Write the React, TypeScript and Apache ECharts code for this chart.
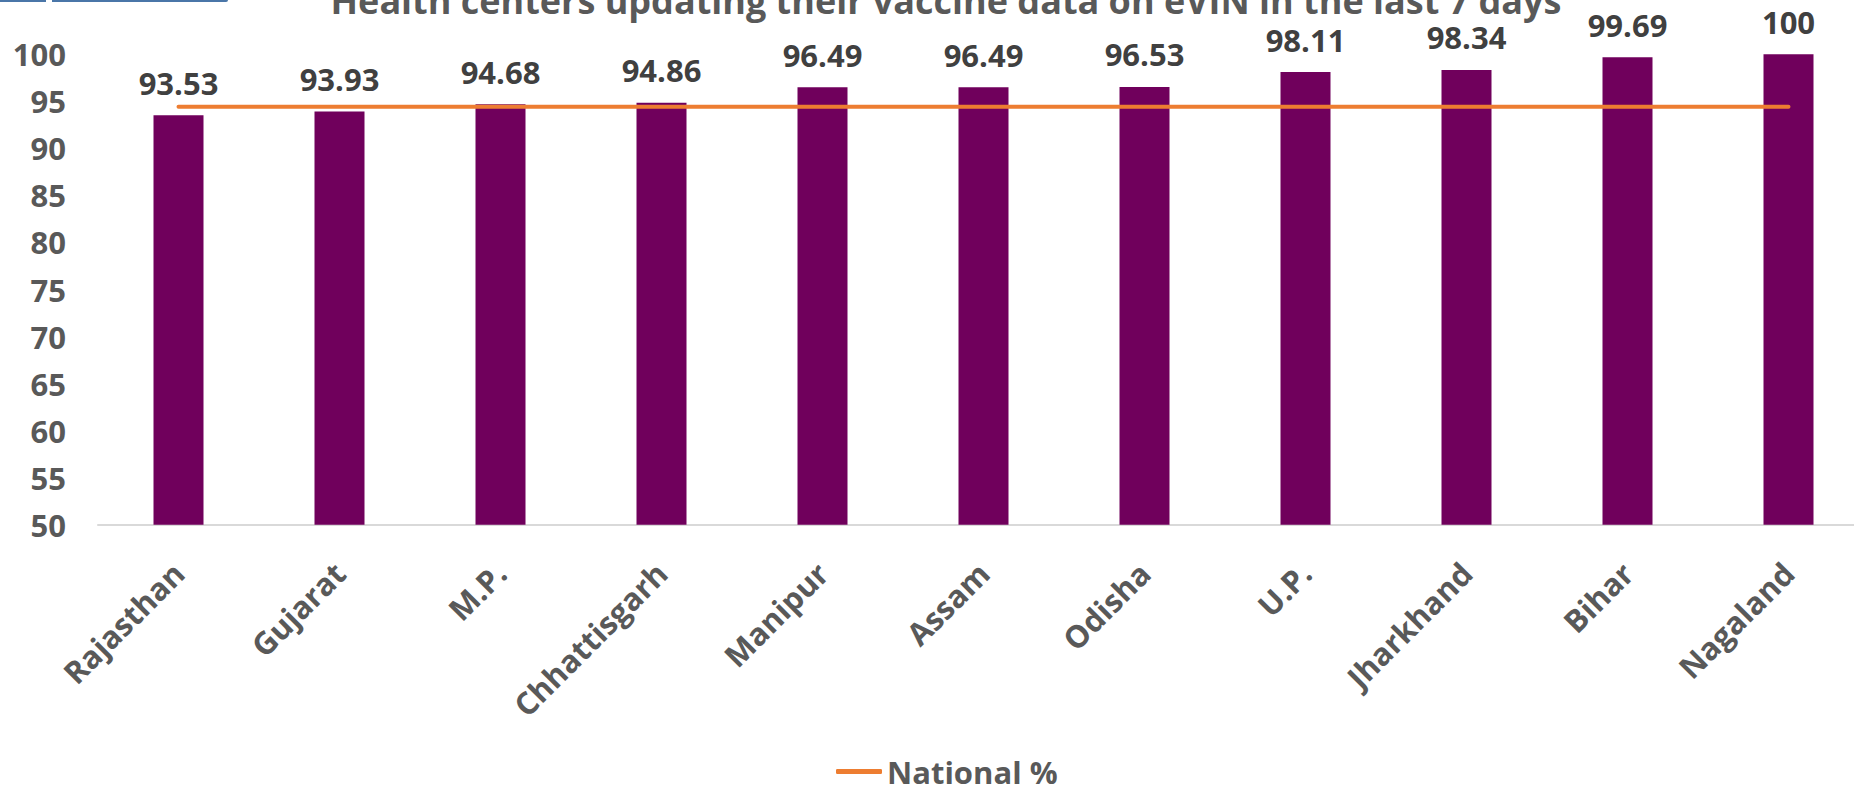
import React, { useEffect, useRef } from "react";
import * as echarts from "echarts";

const categories = ["Rajasthan", "Gujarat", "M.P.", "Chhattisgarh", "Manipur", "Assam", "Odisha", "U.P.", "Jharkhand", "Bihar", "Nagaland"];
const stateValues = [93.53, 93.93, 94.68, 94.86, 96.49, 96.49, 96.53, 98.11, 98.34, 99.69, 100];
const nationalValues = [94.42, 94.42, 94.42, 94.42, 94.42, 94.42, 94.42, 94.42, 94.42, 94.42, 94.42];
const yMin = 50;
const yMax = 100;
const yStep = 5;
const titleText = "Health centers updating their vaccine data on eVIN in the last 7 days";
const seriesNames = ["State %", "National %"];

const FONT = "'Open Sans', sans-serif";
const CHART_W = 1880;

export default function App() {
  const ref = useRef<HTMLDivElement>(null);
  useEffect(() => {
    document.body.style.margin = "0";
    document.body.style.overflow = "hidden";
    const chart = echarts.init(ref.current!, null, { renderer: "svg" });
    chart.setOption({
      animation: false,
      backgroundColor: "#ffffff",
      textStyle: { fontFamily: FONT },
      graphic: [
        {
          type: "rect",
          shape: { x: 0, y: 0, width: 46, height: 2 },
          style: { fill: "#4A76A8" },
        },
        {
          type: "rect",
          shape: { x: 52, y: 0, width: 176, height: 2, r: [0, 0, 2, 0] },
          style: { fill: "#4A76A8" },
        },
        {
          type: "text",
          x: 946,
          y: 0,
          style: {
            text: titleText,
            fill: "#595959",
            font: `bold 36px ${FONT}`,
            textAlign: "center",
            textVerticalAlign: "middle",
          },
        },
      ],
      legend: {
        data: [{ name: seriesNames[1], icon: "roundRect" }],
        left: 836,
        top: 756,
        padding: 0,
        itemWidth: 46,
        itemHeight: 5,
        itemStyle: { color: "#ED7D31" },
        textStyle: { color: "#595959", fontSize: 31, fontWeight: "bold", fontFamily: FONT },
      },
      grid: { left: 98, right: CHART_W - 98 - 1771, top: 54.3, bottom: 266.3, containLabel: false },
      xAxis: {
        type: "category",
        data: categories,
        axisLine: { lineStyle: { color: "#D9D9D9", width: 2 } },
        axisTick: { show: false },
        axisLabel: {
          interval: 0,
          rotate: 45,
          margin: 43,
          color: "#595959",
          fontSize: 31,
          fontWeight: "bold",
          fontFamily: FONT,
        },
      },
      yAxis: {
        type: "value",
        min: yMin,
        max: yMax,
        interval: yStep,
        axisLine: { show: false },
        axisTick: { show: false },
        splitLine: { show: false },
        axisLabel: {
          margin: 32,
          color: "#595959",
          fontSize: 31,
          fontWeight: "bold",
          fontFamily: FONT,
        },
      },
      series: [
        {
          name: seriesNames[0],
          type: "bar",
          data: stateValues,
          barWidth: 50,
          itemStyle: { color: "#70005C" },
          label: {
            show: true,
            position: "top",
            distance: 17,
            color: "#404040",
            fontSize: 31,
            fontWeight: "bold",
            fontFamily: FONT,
          },
        },
        {
          name: seriesNames[1],
          type: "line",
          data: nationalValues,
          symbol: "none",
          lineStyle: { color: "#ED7D31", width: 4, cap: "round" },
          itemStyle: { color: "#ED7D31" },
          z: 5,
        },
      ],
    });
    return () => chart.dispose();
  }, []);
  return <div ref={ref} style={{ position: "fixed", left: 0, top: 0, width: CHART_W, height: 791 }} />;
}
